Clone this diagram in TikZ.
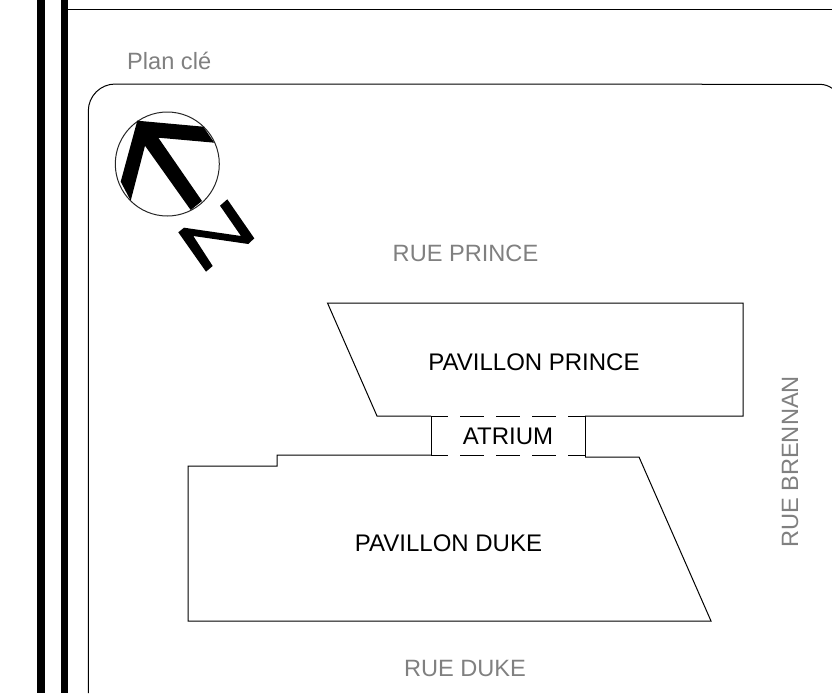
\documentclass[tikz,border=0pt]{standalone}
\usepackage{fontspec}
\setmainfont{Liberation Sans}
\tikzset{
  lbl/.style={inner sep=0pt,font=\fontsize{24}{28}\selectfont,text=black},
  grey/.style={inner sep=0pt,font=\fontsize{23.6}{28}\selectfont,text=black!50},
  thin line/.style={draw=black,line width=1pt},
  heavy/.style={draw=black,line width=7.5pt},
  dashwall/.style={draw=black,line width=1pt,dash pattern=on 24pt off 12pt,dash phase=7pt}
}
\begin{document}
\begin{tikzpicture}[x=1pt,y=-1pt]
\useasboundingbox (0,0) rectangle (832,693);
% outer frame
\draw[heavy] (41.2,0) -- (41.2,693);
\draw[heavy] (64.3,0) -- (64.3,693);
\draw[thin line] (68,9.3) -- (832,9.3);
% key plan frame
\draw[thin line] (88.3,693) -- (88.3,111) arc[start angle=180,end angle=90,x radius=27,y radius=-27] -- (820,84.3) .. controls (825,84.5) and (829,86) .. (832,88.3);
\node[grey,anchor=west] (plan) at (127,61) {Plan clé};
% north arrow
\draw[black!85,line width=1pt] (167.3,164) circle[radius=52];
\fill[black] (137.3,120.7) -- (203.3,126.7) -- (214.3,142.7) -- (158.3,137.7) -- (202,201) -- (190.7,210) -- (145,145.7) -- (130.7,200.7) -- (120.7,181.7) -- cycle;
\fill[black] (227.3,199.3) -- (254.3,238.3) -- (248.3,244) -- (193.3,236) -- (212.7,266) -- (206,271.7) -- (178.3,232.3) -- (184,227.7) -- (241,236) -- (220,205.7) -- cycle;
% buildings
\draw[thin line] (431,416) -- (377,416) -- (327.5,303) -- (743,303) -- (743,416) -- (585,416);
\draw[thin line] (431,455) -- (277,455) -- (277,466) -- (188,466) -- (188,621) -- (711,621) -- (639,457) -- (585,457);
\draw[thin line] (431,416) -- (431,455);
\draw[thin line] (585,416) -- (585,457);
\draw[dashwall] (431,416) -- (585,416);
\draw[dashwall] (431,455) -- (585,455);
% labels
\node[grey] (prince) at (465.5,253) {RUE PRINCE};
\node[lbl] (pp) at (534,362) {PAVILLON PRINCE};
\node[lbl] (atrium) at (508,436) {ATRIUM};
\node[lbl] (pd) at (448.5,543) {PAVILLON DUKE};
\node[grey] (duke) at (465,668) {RUE DUKE};
\node[grey,rotate=90] (brennan) at (790,462) {RUE BRENNAN};
\end{tikzpicture}
\end{document}
